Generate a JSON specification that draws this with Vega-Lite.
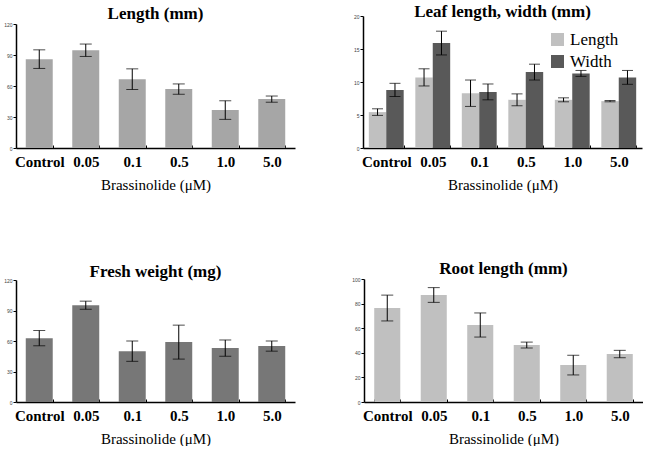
{
  "$schema": "https://vega.github.io/schema/vega-lite/v6.json",
  "background": "white",
  "padding": {"left": 3, "top": 3, "right": 0, "bottom": 0},
  "config": {
    "font": "Liberation Serif",
    "view": {"stroke": null},
    "axisY": {"labelFontSize": 5, "tickSize": 3, "domainColor": "black", "tickColor": "black", "labelColor": "#444", "grid": false, "minExtent": 12, "maxExtent": 12, "labelPadding": 1, "domainWidth": 1.5, "labelFont": "Liberation Sans"},
    "axisX": {"labelFont": "Liberation Serif", "titleFont": "Liberation Serif", "labelFontSize": 15, "labelFontWeight": "bold", "labelColor": "black", "labelAngle": 0, "domainColor": "black", "domainWidth": 1.5, "tickBand": "extent", "tickSize": -3, "tickColor": "black", "titleFontSize": 15, "titleFontWeight": "normal", "titleColor": "black", "labelPadding": 9, "titlePadding": 8},
    "title": {"font": "Liberation Serif", "fontSize": 17, "fontWeight": "bold", "color": "black"},
    "legend": {"labelFont": "Liberation Serif"}
  },
  "datasets": {
    "lengthData": [
      {"dose": "Control", "mean": 86, "err": 9},
      {"dose": "0.05", "mean": 94.6, "err": 6},
      {"dose": "0.1", "mean": 66.6, "err": 10},
      {"dose": "0.5", "mean": 57, "err": 5},
      {"dose": "1.0", "mean": 36.7, "err": 9},
      {"dose": "5.0", "mean": 47.3, "err": 3}
    ],
    "leafData": [
      {"dose": "Control", "part": "Length", "mean": 5.44, "err": 0.5},
      {"dose": "Control", "part": "Width", "mean": 8.8, "err": 1.0},
      {"dose": "0.05", "part": "Length", "mean": 10.7, "err": 1.3},
      {"dose": "0.05", "part": "Width", "mean": 15.9, "err": 1.8},
      {"dose": "0.1", "part": "Length", "mean": 8.3, "err": 2.0},
      {"dose": "0.1", "part": "Width", "mean": 8.5, "err": 1.2},
      {"dose": "0.5", "part": "Length", "mean": 7.3, "err": 0.9},
      {"dose": "0.5", "part": "Width", "mean": 11.5, "err": 1.2},
      {"dose": "1.0", "part": "Length", "mean": 7.3, "err": 0.3},
      {"dose": "1.0", "part": "Width", "mean": 11.3, "err": 0.45},
      {"dose": "5.0", "part": "Length", "mean": 7.1, "err": 0.1},
      {"dose": "5.0", "part": "Width", "mean": 10.7, "err": 1.05}
    ],
    "freshData": [
      {"dose": "Control", "mean": 62.8, "err": 7.5},
      {"dose": "0.05", "mean": 95.2, "err": 4},
      {"dose": "0.1", "mean": 50, "err": 10},
      {"dose": "0.5", "mean": 58.9, "err": 16.7},
      {"dose": "1.0", "mean": 53, "err": 8},
      {"dose": "5.0", "mean": 55, "err": 5}
    ],
    "rootData": [
      {"dose": "Control", "mean": 76.4, "err": 10.5},
      {"dose": "0.05", "mean": 87, "err": 6},
      {"dose": "0.1", "mean": 62.6, "err": 9.8},
      {"dose": "0.5", "mean": 46.3, "err": 2.4},
      {"dose": "1.0", "mean": 30, "err": 8},
      {"dose": "5.0", "mean": 39, "err": 3}
    ]
  },
  "spacing": 68,
  "vconcat": [
    {
      "spacing": 56,
      "hconcat": [
        {
          "width": 279, "height": 132,
          "title": {"text": "Length (mm)", "offset": -7},
          "data": {"name": "lengthData"},
          "encoding": {
            "x": {"field": "dose", "type": "nominal", "sort": null, "scale": {"paddingInner": 0.42, "paddingOuter": 0.21}, "axis": {"title": "Brassinolide (μM)", "labelFont": "Liberation Serif", "titleFont": "Liberation Serif"}},
            "y": {"field": "mean", "type": "quantitative", "scale": {"domain": [0, 120], "range": [132, 8]}, "axis": {"title": null, "values": [0, 30, 60, 90, 120]}}
          },
          "layer": [
            {"mark": {"type": "bar", "color": "#a6a6a6"}},
            {"mark": {"type": "errorbar", "color": "black", "ticks": {"size": 12}}, "encoding": {"yError": {"field": "err"}}}
          ]
        },
        {
          "width": 279, "height": 132,
          "title": {"text": "Leaf length, width (mm)", "offset": -7},
          "data": {"name": "leafData"},
          "encoding": {
            "x": {"field": "dose", "type": "nominal", "sort": null, "scale": {"paddingInner": 0.25, "paddingOuter": 0.125}, "axis": {"title": "Brassinolide (μM)", "labelFont": "Liberation Serif", "titleFont": "Liberation Serif"}},
            "xOffset": {"field": "part", "type": "nominal", "scale": {"paddingInner": 0}},
            "y": {"field": "mean", "type": "quantitative", "scale": {"domain": [0, 20]}, "axis": {"title": null, "values": [0, 5, 10, 15, 20]}}
          },
          "layer": [
            {"mark": {"type": "bar", "opacity": 1}, "encoding": {"color": {"field": "part", "type": "nominal", "scale": {"domain": ["Length", "Width"], "range": ["#c0c0c0", "#595959"]}, "legend": {"orient": "none", "legendX": 533, "legendY": 15, "title": null, "symbolType": "square", "symbolSize": 169, "symbolOpacity": 1, "symbolStrokeWidth": 0, "labelFontSize": 17, "labelColor": "black", "rowPadding": 4, "labelOffset": 4}}}},
            {"mark": {"type": "errorbar", "color": "black", "ticks": {"size": 11}}, "encoding": {"yError": {"field": "err"}}}
          ]
        }
      ]
    },
    {
      "spacing": 56,
      "hconcat": [
        {
          "width": 279, "height": 123,
          "title": {"text": "Fresh weight (mg)", "offset": -3},
          "data": {"name": "freshData"},
          "encoding": {
            "x": {"field": "dose", "type": "nominal", "sort": null, "scale": {"paddingInner": 0.42, "paddingOuter": 0.21}, "axis": {"title": "Brassinolide (μM)", "labelFont": "Liberation Serif", "titleFont": "Liberation Serif"}},
            "y": {"field": "mean", "type": "quantitative", "scale": {"domain": [0, 120], "range": [123, 1]}, "axis": {"title": null, "values": [0, 30, 60, 90, 120]}}
          },
          "layer": [
            {"mark": {"type": "bar", "color": "#777777"}},
            {"mark": {"type": "errorbar", "color": "black", "ticks": {"size": 12}}, "encoding": {"yError": {"field": "err"}}}
          ]
        },
        {
          "width": 279, "height": 123,
          "title": {"text": "Root length (mm)", "offset": -1},
          "data": {"name": "rootData"},
          "encoding": {
            "x": {"field": "dose", "type": "nominal", "sort": null, "scale": {"paddingInner": 0.44, "paddingOuter": 0.22}, "axis": {"title": "Brassinolide (μM)", "labelFont": "Liberation Serif", "titleFont": "Liberation Serif"}},
            "y": {"field": "mean", "type": "quantitative", "scale": {"domain": [0, 100]}, "axis": {"title": null, "values": [0, 20, 40, 60, 80, 100]}}
          },
          "layer": [
            {"mark": {"type": "bar", "color": "#c0c0c0"}},
            {"mark": {"type": "errorbar", "color": "black", "ticks": {"size": 12}}, "encoding": {"yError": {"field": "err"}}}
          ]
        }
      ]
    }
  ]
}
